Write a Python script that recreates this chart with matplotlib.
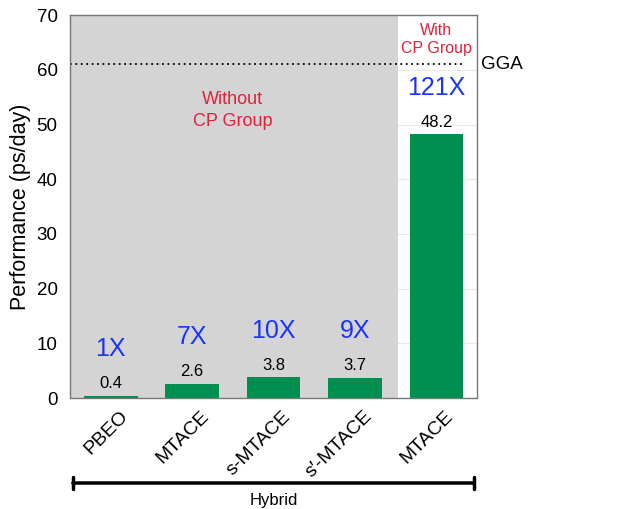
import numpy as np
import matplotlib.pyplot as plt
import matplotlib.transforms as mtransforms

plt.rcParams['font.family'] = ['Liberation Sans', 'DejaVu Sans']

categories = ["PBEO", "MTACE", "s-MTACE", "s\u2032-MTACE", "MTACE"]
performance = [0.4, 2.6, 3.8, 3.7, 48.2]
speedup = ["1X", "7X", "10X", "9X", "121X"]
gga_value = 61

fig = plt.figure(figsize=(6.37, 5.09), dpi=100)
ax = fig.add_axes([0.110, 0.218, 0.639, 0.752])

x = np.arange(len(categories))
ax.axvspan(-0.5, 3.53, color='#d4d4d4', zorder=1, lw=0)
ax.bar(x, performance, width=0.66, color='#008f4f', zorder=2)
ax.plot([-0.5, 4.35], [gga_value, gga_value], ls=(0, (1, 2)), color='black', lw=1.3, zorder=3)
ax.text(4.55, gga_value, "GGA", ha='left', va='center', fontsize=13.5, clip_on=False)

for i, v in enumerate(performance):
    ax.text(i, v + 2.2, f"{v}", ha='center', va='center', fontsize=12, zorder=4)
    ax.text(i, v + 8.5, speedup[i], ha='center', va='center', fontsize=18, color='#1a35f5', zorder=4)

ax.text(1.5, 52.6, "Without\nCP Group", ha='center', va='center', fontsize=13,
        color='#e0203c', linespacing=1.35)
ax.text(4.0, 65.6, "With\nCP Group", ha='center', va='center', fontsize=11.5,
        color='#e0203c', linespacing=1.25)

ax.set_xlim(-0.5, 4.5)
ax.set_ylim(0, 70)
ax.set_yticks(np.arange(0, 71, 10))
ax.tick_params(axis='y', labelsize=13.5, length=0, pad=9)
ax.tick_params(axis='x', labelsize=14, length=0, pad=7)
ax.set_xticks(x)
ax.set_xticklabels(categories, rotation=45, ha='right', rotation_mode='anchor')
shift = mtransforms.ScaledTranslation(6 / 72, 0, fig.dpi_scale_trans)
for lbl in ax.get_xticklabels():
    lbl.set_transform(lbl.get_transform() + shift)
ax.set_axisbelow(True)
ax.yaxis.grid(True, color='#e8e8e8', lw=0.8)
for s in ax.spines.values():
    s.set_color('#777777')
    s.set_linewidth(1.0)
    s.set_zorder(5)
ax.set_ylabel("Performance (ps/day)", fontsize=15.5, labelpad=4)

# hybrid bracket under the axis
yb = -0.222
ax.annotate("", xy=(0.0, yb), xytext=(1.0, yb), xycoords='axes fraction',
            arrowprops=dict(arrowstyle='|-|', lw=2.5, color='black', mutation_scale=4))
ax.text(0.5, yb - 0.046, "Hybrid", transform=ax.transAxes, ha='center', va='center', fontsize=12)

fig.savefig("out.png", dpi=100)
